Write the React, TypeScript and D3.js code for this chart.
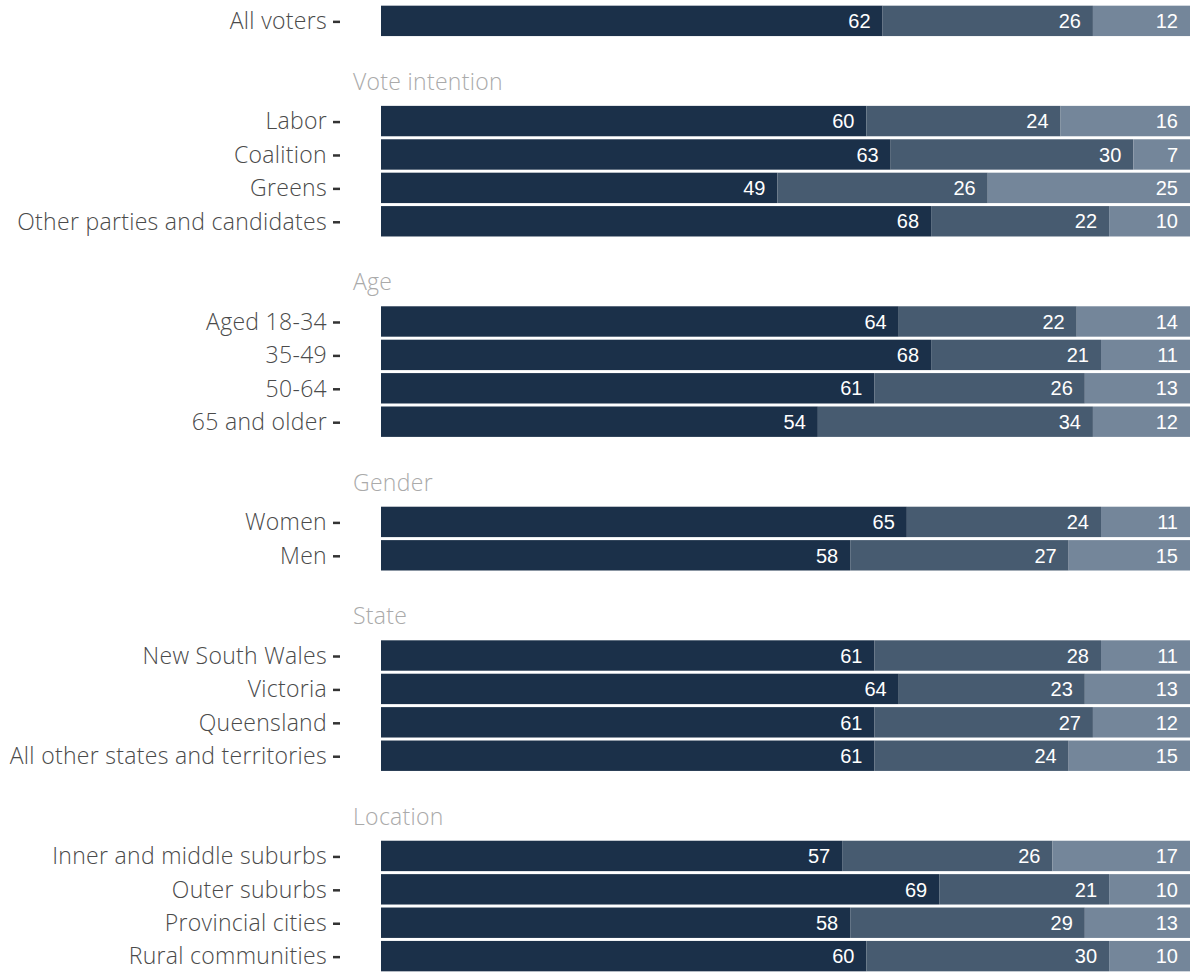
import React from "react";
import * as d3 from "d3";

const COLORS = ["#1b3049", "#475b70", "#74869a"];

const SECTIONS = ["", "Vote intention", "Age", "Gender", "State", "Location"];
const ROW_LABELS = [
  ["All voters"],
  ["Labor", "Coalition", "Greens", "Other parties and candidates"],
  ["Aged 18-34", "35-49", "50-64", "65 and older"],
  ["Women", "Men"],
  ["New South Wales", "Victoria", "Queensland", "All other states and territories"],
  ["Inner and middle suburbs", "Outer suburbs", "Provincial cities", "Rural communities"],
];
const FIRST = [[62], [60, 63, 49, 68], [64, 68, 61, 54], [65, 58], [61, 64, 61, 61], [57, 69, 58, 60]];
const SECOND = [[26], [24, 30, 26, 22], [22, 21, 26, 34], [24, 27], [28, 23, 27, 24], [26, 21, 29, 30]];
const THIRD = [[12], [16, 7, 25, 10], [14, 11, 13, 12], [11, 15], [11, 13, 12, 15], [17, 10, 13, 10]];

type Slot = { key: string; type: "row" | "header" | "gap"; label: string; values?: number[] };

const slots: Slot[] = [];
SECTIONS.forEach((sec, si) => {
  if (si > 0) {
    slots.push({ key: "gap" + si, type: "gap", label: "" });
    slots.push({ key: "hdr" + si, type: "header", label: sec });
  }
  ROW_LABELS[si].forEach((lab, ri) => {
    slots.push({
      key: "row" + si + "-" + ri,
      type: "row",
      label: lab,
      values: [FIRST[si][ri], SECOND[si][ri], THIRD[si][ri]],
    });
  });
});

export default function App() {
  const W = 1191;
  const H = 972;
  const y = d3.scaleBand<string>().domain(slots.map((s) => s.key)).range([4, 973]).paddingInner(0.09).paddingOuter(0.05);
  const x = d3.scaleLinear().domain([0, 100]).range([381, 1190]);
  const stack = d3.stack<Slot, number>().keys([0, 1, 2]).value((d, k) => d.values![k]);
  const rows = slots.filter((s) => s.type === "row");
  const series = stack(rows);
  const labelFont = "'Open Sans', Lato, sans-serif";
  const numFont = "'Liberation Sans', Arial, Helvetica, sans-serif";

  return (
    <svg width={W} height={H} style={{ position: "absolute", left: 0, top: 0, background: "#fff" }}>
      {series.map((ser, k) =>
        ser.map((d, i) => {
          const s = rows[i];
          const y0 = y(s.key)!;
          const bw = y.bandwidth();
          const x0 = x(d[0]);
          const x1 = x(d[1]);
          return (
            <g key={s.key + "-" + k}>
              <rect x={x0} y={y0} width={x1 - x0} height={bw} fill={COLORS[k]} />
              <text
                x={x1 - 12}
                y={y0 + bw / 2}
                dy="0.36em"
                textAnchor="end"
                fill="#fff"
                fontFamily={numFont}
                fontSize={20}
              >
                {s.values![k]}
              </text>
            </g>
          );
        })
      )}
      {slots.map((s) => {
        const cy = y(s.key)! + y.bandwidth() / 2;
        if (s.type === "row") {
          return (
            <g key={"lab-" + s.key}>
              <text x={327} y={cy} dy="0.36em" textAnchor="end" fill="#4a4a4a" fontFamily={labelFont} fontWeight={300} fontSize={23} letterSpacing={0.3}>
                {s.label}
              </text>
              <line x1={333} x2={340} y1={cy + 1} y2={cy + 1} stroke="#333" strokeWidth={2.5} />
            </g>
          );
        }
        if (s.type === "header") {
          return (
            <text key={"hdr-" + s.key} x={353} y={cy - 6} dy="0.36em" fill="#aaaaaa" fontFamily={labelFont} fontWeight={300} fontSize={23} letterSpacing={0.3}>
              {s.label}
            </text>
          );
        }
        return null;
      })}
    </svg>
  );
}
